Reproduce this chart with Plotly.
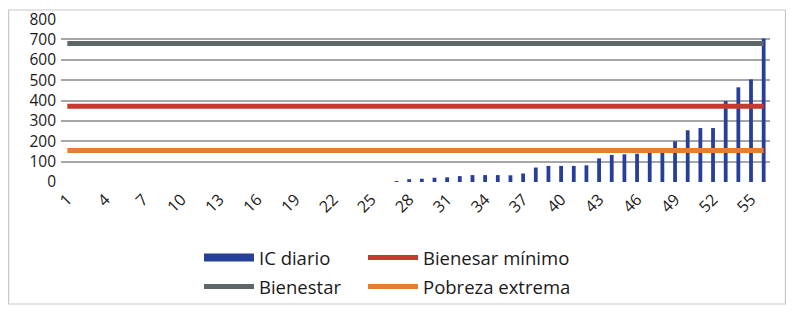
import plotly.graph_objects as go

categories = list(range(1, 57))
ic_diario = [0]*26 + [4, 14, 16, 21, 23, 29, 34, 34, 34, 33, 42, 71, 79, 79, 79, 82,
                      116, 133, 136, 139, 144, 144, 200, 254, 265, 265, 397, 465, 504, 705]
bienestar = [680]*56
bienesar_minimo = [372]*56
pobreza_extrema = [155]*56
tick_vals = list(range(1, 57, 3))
y_ticks = list(range(0, 801, 100))

BLUE = "#26409a"
GREY = "#5d6767"
RED = "#c5392e"
ORANGE = "#e17f35"
FONT = "Open Sans"
TXT = "#1a1a1a"

fig = go.Figure()
fig.add_bar(x=categories, y=ic_diario, marker=dict(color=BLUE, line_width=0),
            showlegend=False, legendgroup="ic")
fig.add_scatter(x=categories, y=bienestar, mode="lines", line=dict(color=GREY, width=5),
                name="Bienestar", legend="legend3")
fig.add_scatter(x=categories, y=bienesar_minimo, mode="lines", line=dict(color=RED, width=5),
                name="Bienesar mínimo", legend="legend2")
fig.add_scatter(x=categories, y=pobreza_extrema, mode="lines", line=dict(color=ORANGE, width=5),
                name="Pobreza extrema", legend="legend4")
# legend entry for the bar series
fig.add_scatter(x=[None], y=[None], mode="lines", line=dict(color=BLUE, width=8),
                name="IC diario", legend="legend", legendgroup="ic")

# figure sits inside the page body's 8px margin
W, H = 778, 298
L, R, T, B = 53, 16, 11, 124
pw, ph = W - L - R, H - T - B

def px(x):
    return (x - L) / pw

def py(y):
    return (H - B - y) / ph

def cx(x):
    return x / W

def cy(y):
    return 1 - y / H

leg_common = dict(font=dict(family=FONT, size=18.5, color=TXT), bgcolor="rgba(0,0,0,0)",
                  itemwidth=50, xanchor="left", yanchor="middle", orientation="v",
                  xref="container", yref="container",
                  itemclick=False, itemdoubleclick=False)
fig.update_layout(
    width=W, height=H,
    margin=dict(l=L, r=R, t=T, b=B, autoexpand=False),
    paper_bgcolor="white", plot_bgcolor="white",
    bargap=0.7,
    font=dict(family=FONT, size=16, color=TXT),
    legend=dict(x=cx(191), y=cy(250), **leg_common),
    legend2=dict(x=cx(355), y=cy(250), **leg_common),
    legend3=dict(x=cx(191), y=cy(279), **leg_common),
    legend4=dict(x=cx(355), y=cy(279), **leg_common),
    xaxis=dict(range=[0.5, 56.5], tickmode="array", tickvals=tick_vals,
               ticktext=[str(v) for v in tick_vals], tickangle=-45,
               showgrid=False, zeroline=False, showline=False, ticks="",
               automargin=False, ticklabelstandoff=4,
               tickfont=dict(family=FONT, size=16, color=TXT)),
    yaxis=dict(range=[0, 800.5], tickmode="array", tickvals=y_ticks,
               showgrid=True, gridcolor="#a6a6a6", gridwidth=1.5,
               zeroline=False, showline=False, ticks="", automargin=False,
               ticklabelstandoff=4, ticklabeloverflow="allow",
               tickfont=dict(family=FONT, size=15.5, color=TXT)),
    shapes=[dict(type="rect", xref="paper", yref="paper",
                 x0=px(0.6), x1=px(777.4), y0=py(296), y1=py(2),
                 line=dict(color="#c8c8c8", width=1.2), fillcolor="rgba(0,0,0,0)", layer="below")],
)
fig.write_html("out.html")
